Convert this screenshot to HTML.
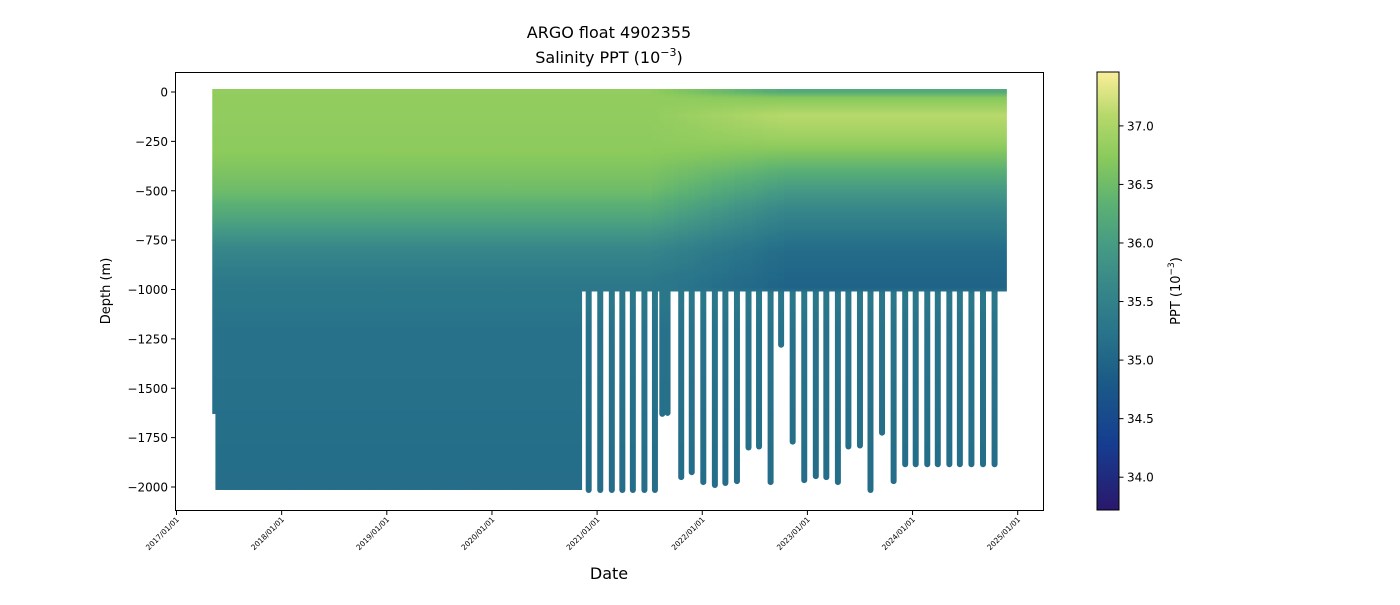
<!DOCTYPE html>
<html><head><meta charset="utf-8"><style>
body{margin:0;background:#fff;font-family:"Liberation Sans",sans-serif}
svg text{font-family:"DejaVu Sans","Liberation Sans",sans-serif;fill:#000}
</style></head><body>
<svg id="chart" width="1400" height="600" xmlns="http://www.w3.org/2000/svg">
<defs id="defs"></defs>
<g id="plot"></g>
<rect x="175.5" y="72.5" width="868" height="438" fill="none" stroke="#000" stroke-width="1"/>
<g id="axes"></g>
<text x="609" y="38" font-size="16" text-anchor="middle">ARGO float 4902355</text>
<text x="609" y="63" font-size="16" text-anchor="middle">Salinity PPT (10<tspan dy="-7" font-size="11">−3</tspan><tspan dy="7">)</tspan></text>
<text x="609" y="579" font-size="16" text-anchor="middle">Date</text>
<text transform="translate(110,291) rotate(-90)" font-size="13" text-anchor="middle">Depth (m)</text>
<rect x="1097" y="72" width="22" height="438" fill="url(#cbgrad)" stroke="#000" stroke-width="1"/>
<text transform="translate(1180,291) rotate(-90)" font-size="13" text-anchor="middle">PPT (10<tspan dy="-6" font-size="9">−3</tspan><tspan dy="6">)</tspan></text>
</svg>
<script>
const yTicks=[0,-250,-500,-750,-1000,-1250,-1500,-1750,-2000];
const xTickYears=[2017,2018,2019,2020,2021,2022,2023,2024,2025];
const cbTicks=[34.0,34.5,35.0,35.5,36.0,36.5,37.0];
// salinity profiles (depth m, salinity)
const depthsA=[0,300,500,650,800,950,1200,2000];
const salA=[36.8,36.75,36.5,36.1,35.6,35.35,35.2,35.12];
const depthsB=[0,30,120,250,400,600,800,1000];
const salB=[36.2,36.7,37.1,36.85,36.3,35.6,35.1,34.95];
// float record: dense period, shallow period and deep profile dates / depths
const denseStart=2017.34, denseEnd=2020.84, shallowEnd=2024.88;
const denseDepth=2015, firstDepth=1630, shallowDepth=1010;
const deepDates=[2020.92,2021.03,2021.14,2021.24,2021.34,2021.45,2021.55,2021.62,2021.67,2021.80,2021.90,2022.01,2022.12,2022.22,2022.33,2022.44,2022.54,2022.65,2022.75,2022.86,2022.97,2023.08,2023.18,2023.29,2023.39,2023.50,2023.60,2023.71,2023.82,2023.93,2024.03,2024.14,2024.24,2024.35,2024.45,2024.56,2024.67,2024.78];
const deepDepths=[2015,2015,2015,2015,2015,2015,2015,1630,1625,1950,1925,1975,1990,1980,1970,1800,1795,1975,1280,1770,1965,1945,1950,1975,1795,1790,2015,1725,1970,1885,1885,1885,1885,1885,1885,1885,1885,1885];
const cbMin=33.72, cbMax=37.46;
const cmap=[[0,"#2a186c"],[0.15,"#163d90"],[0.3,"#1b5c87"],[0.4,"#28738a"],[0.5,"#36858a"],[0.6,"#459a84"],[0.7,"#5cb173"],[0.8,"#88c95c"],[0.9,"#b6d86a"],[1,"#fbee9a"]];
const NS="http://www.w3.org/2000/svg";
const X=y=>176.5+(y-2017)*105.15;
const Y=d=>92+d*0.1975;
const CB=s=>510-(s-cbMin)/(cbMax-cbMin)*438;
function hex(h){return [1,3,5].map(i=>parseInt(h.substr(i,2),16));}
function color(s){let t=(s-cbMin)/(cbMax-cbMin);t=Math.max(0,Math.min(1,t));
for(let i=1;i<cmap.length;i++){if(t<=cmap[i][0]){const a=cmap[i-1],b=cmap[i];const f=(t-a[0])/(b[0]-a[0]);const ca=hex(a[1]),cb=hex(b[1]);return "rgb("+ca.map((v,k)=>Math.round(v+(cb[k]-v)*f)).join(",")+")";}}return cmap[cmap.length-1][1];}
function interp(ds,ss,d){if(d<=ds[0])return ss[0];for(let i=1;i<ds.length;i++){if(d<=ds[i]){const f=(d-ds[i-1])/(ds[i]-ds[i-1]);return ss[i-1]+(ss[i]-ss[i-1])*f;}}return ss[ss.length-1];}
function mk(tag,attrs,parent){const e=document.createElementNS(NS,tag);for(const k in attrs)e.setAttribute(k,attrs[k]);parent.appendChild(e);return e;}
const defs=document.getElementById('defs'),plot=document.getElementById('plot'),axes=document.getElementById('axes');
const cg=mk('linearGradient',{id:'cbgrad',x1:0,y1:1,x2:0,y2:0},defs);
cmap.forEach(c=>mk('stop',{offset:c[0],'stop-color':c[1]},cg));
const LEVELS=20;
for(let L=0;L<=LEVELS;L++){const w=L/LEVELS;const g=mk('linearGradient',{id:'g'+L,gradientUnits:'userSpaceOnUse',x1:0,y1:Y(0),x2:0,y2:Y(2020)},defs);
for(let d=0;d<=2020;d+=30){const s=d>1000?interp(depthsA,salA,d):interp(depthsA,salA,d)*(1-w)+interp(depthsB,salB,d)*w;mk('stop',{offset:d/2020,'stop-color':color(s)},g);}}
function wOf(yr){return Math.max(0,Math.min(1,(yr-2021.5)/1.3));}
for(let yr=denseStart;yr<shallowEnd;yr+=0.01){
const depth=yr<2017.37?firstDepth:(yr<denseEnd?denseDepth:shallowDepth);
const L=Math.round(wOf(yr)*LEVELS);
const r=mk('rect',{x:X(yr),y:Y(0)-3,width:1.8,height:Y(depth)-Y(0)+3,fill:'url(#g'+L+')'},plot);

}
deepDates.forEach((yr,i)=>{const L=Math.round(wOf(yr)*LEVELS);
const r=mk('rect',{x:X(yr)-3,y:Y(0)-3,width:6,height:Y(deepDepths[i])-Y(0)+6,rx:3,fill:'url(#g'+L+')'},plot);

});
yTicks.forEach(v=>{const y=Y(-v);mk('line',{x1:171,x2:175.5,y1:y,y2:y,stroke:'#000'},axes);
const t=mk('text',{x:168,y:y+4.5,'font-size':12,'text-anchor':'end'},axes);t.textContent=v<0?'−'+Math.abs(v):String(v);

});
xTickYears.forEach(yr=>{const x=X(yr);mk('line',{x1:x,x2:x,y1:510.5,y2:515,stroke:'#000'},axes);
const t=mk('text',{transform:'translate('+(x+3)+',520) rotate(-45)','font-size':7.5,'text-anchor':'end'},axes);t.textContent=yr+'/01/01';

});
cbTicks.forEach(v=>{const y=CB(v);mk('line',{x1:1119,x2:1123.5,y1:y,y2:y,stroke:'#000'},axes);
const t=mk('text',{x:1127,y:y+4.5,'font-size':12},axes);t.textContent=v.toFixed(1);

});
</script>
</body></html>
